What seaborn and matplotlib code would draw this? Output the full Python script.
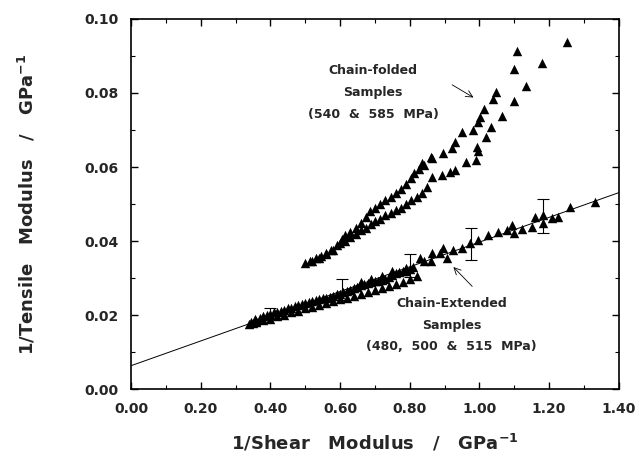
import numpy as np
import pandas as pd
import matplotlib
matplotlib.use("Agg")
import matplotlib.pyplot as plt
import seaborn as sns

# ---------------- data ----------------
# Chain-folded samples, upper branch
fold_a_x = [0.500, 0.515, 0.530, 0.545, 0.560, 0.575, 0.590, 0.605, 0.615, 0.630,
            0.645, 0.660, 0.675, 0.685, 0.700, 0.715, 0.730, 0.745, 0.760, 0.775,
            0.790, 0.805, 0.811, 0.826, 0.835, 0.841, 0.861, 0.863, 0.897, 0.921,
            0.930, 0.949, 0.983, 0.997, 1.002, 1.013, 1.040, 1.048, 1.100, 1.109]
fold_a_y = [0.0340, 0.0345, 0.0355, 0.0360, 0.0368, 0.0375, 0.0390, 0.0405, 0.0415, 0.0425,
            0.0435, 0.0450, 0.0465, 0.0480, 0.0490, 0.0500, 0.0510, 0.0520, 0.0530, 0.0540,
            0.0555, 0.0570, 0.0583, 0.0595, 0.0610, 0.0605, 0.0628, 0.0625, 0.0637, 0.0651,
            0.0668, 0.0695, 0.0700, 0.0722, 0.0736, 0.0756, 0.0783, 0.0804, 0.0864, 0.0914]
# Chain-folded samples, lower branch
fold_b_x = [0.520, 0.540, 0.560, 0.580, 0.600, 0.615, 0.630, 0.645, 0.660, 0.675,
            0.690, 0.700, 0.715, 0.730, 0.745, 0.760, 0.775, 0.790, 0.805, 0.820,
            0.835, 0.850, 0.863, 0.892, 0.916, 0.930, 0.961, 0.990, 0.997, 0.992,
            1.019, 1.033, 1.066, 1.100, 1.133, 1.181, 1.251]
fold_b_y = [0.0345, 0.0355, 0.0365, 0.0375, 0.0395, 0.0400, 0.0410, 0.0420, 0.0430, 0.0435,
            0.0445, 0.0455, 0.0460, 0.0470, 0.0475, 0.0485, 0.0490, 0.0500, 0.0510, 0.0520,
            0.0530, 0.0545, 0.0572, 0.0578, 0.0587, 0.0592, 0.0614, 0.0619, 0.0644, 0.0655,
            0.0680, 0.0709, 0.0739, 0.0778, 0.0819, 0.0882, 0.0939]

# Chain-extended samples
ext_a_x = [0.340, 0.345, 0.350, 0.355, 0.360, 0.370, 0.380, 0.390, 0.400, 0.410,
           0.420, 0.430, 0.440, 0.450, 0.460, 0.470, 0.480, 0.490, 0.500, 0.510,
           0.520, 0.530, 0.540, 0.550, 0.560, 0.570, 0.580, 0.590, 0.600, 0.610,
           0.620, 0.630, 0.640, 0.650, 0.660, 0.670, 0.680, 0.690, 0.700, 0.710,
           0.720, 0.730, 0.740, 0.750, 0.760, 0.770, 0.780, 0.790, 0.800, 0.810]
ext_a_y = [0.0175, 0.0182, 0.0178, 0.0188, 0.0185, 0.0192, 0.0196, 0.0200, 0.0203, 0.0207,
           0.0209, 0.0212, 0.0214, 0.0218, 0.0220, 0.0224, 0.0226, 0.0229, 0.0232, 0.0236,
           0.0237, 0.0240, 0.0243, 0.0245, 0.0247, 0.0249, 0.0252, 0.0256, 0.0258, 0.0262,
           0.0265, 0.0268, 0.0272, 0.0275, 0.0280, 0.0284, 0.0286, 0.0290, 0.0292, 0.0291,
           0.0295, 0.0298, 0.0303, 0.0308, 0.0313, 0.0316, 0.0320, 0.0318, 0.0325, 0.0331]
ext_b_x = [0.360, 0.380, 0.400, 0.420, 0.440, 0.460, 0.480, 0.500, 0.520, 0.540,
           0.560, 0.580, 0.600, 0.620, 0.640, 0.660, 0.680, 0.700, 0.720, 0.740,
           0.760, 0.780, 0.800, 0.820]
ext_b_y = [0.0180, 0.0187, 0.0190, 0.0197, 0.0201, 0.0207, 0.0212, 0.0218, 0.0222, 0.0228,
           0.0233, 0.0238, 0.0242, 0.0247, 0.0252, 0.0256, 0.0262, 0.0267, 0.0272, 0.0278,
           0.0285, 0.0290, 0.0296, 0.0305]
ext_c_x = [0.660, 0.690, 0.720, 0.750, 0.790, 0.830, 0.840, 0.860, 0.863, 0.887,
           0.897, 0.906, 0.925, 0.949, 0.973, 0.997, 1.026, 1.053, 1.079, 1.093,
           1.100, 1.122, 1.150, 1.160, 1.184, 1.184, 1.208, 1.227, 1.260, 1.332]
ext_c_y = [0.0290, 0.0298, 0.0305, 0.0318, 0.0328, 0.0353, 0.0345, 0.0345, 0.0367, 0.0367,
           0.0380, 0.0353, 0.0376, 0.0380, 0.0394, 0.0403, 0.0416, 0.0423, 0.0430, 0.0443,
           0.0422, 0.0432, 0.0439, 0.0466, 0.0448, 0.0470, 0.0461, 0.0466, 0.0493, 0.0506]

# error bars on chain-extended data
err_x = [0.400, 0.605, 0.801, 0.976, 1.184]
err_y = [0.0203, 0.0268, 0.0334, 0.0392, 0.0468]
err_e = [0.0015, 0.0028, 0.0031, 0.0042, 0.0046]

# linear fit through chain-extended data
fit_intercept = 0.0063
fit_slope = 0.0334

x_ticks = [0.00, 0.20, 0.40, 0.60, 0.80, 1.00, 1.20, 1.40]
y_ticks = [0.00, 0.02, 0.04, 0.06, 0.08, 0.10]

# ---------------- build frames ----------------
df = pd.concat([
    pd.DataFrame({"x": fold_a_x, "y": fold_a_y, "set": "fold_a"}),
    pd.DataFrame({"x": fold_b_x, "y": fold_b_y, "set": "fold_b"}),
    pd.DataFrame({"x": ext_a_x, "y": ext_a_y, "set": "ext_a"}),
    pd.DataFrame({"x": ext_b_x, "y": ext_b_y, "set": "ext_b"}),
    pd.DataFrame({"x": ext_c_x, "y": ext_c_y, "set": "ext_c"}),
], ignore_index=True)

fit_x = np.array([x_ticks[0], x_ticks[-1]])
fit_df = pd.DataFrame({"x": fit_x, "y": fit_intercept + fit_slope * fit_x})

# ---------------- plot ----------------
sns.set_theme(style="ticks")
plt.rcParams["font.family"] = ["DejaVu Sans"]
plt.rcParams["mathtext.default"] = "bf"

fig = plt.figure(figsize=(6.4, 4.7), dpi=100)
ax = fig.add_axes([0.2047, 0.1723, 0.7620, 0.7873])

sns.lineplot(data=fit_df, x="x", y="y", ax=ax, color="black", linewidth=0.7)
sns.scatterplot(data=df, x="x", y="y", ax=ax, marker="^", color="black",
                s=46, linewidth=0, legend=False)
ax.errorbar(err_x, err_y, yerr=err_e, fmt="none", ecolor="black",
            elinewidth=0.8, capsize=4, capthick=0.8)

ax.set_xlim(x_ticks[0], x_ticks[-1])
ax.set_ylim(y_ticks[0], y_ticks[-1])
ax.set_xticks(x_ticks)
ax.set_yticks(y_ticks)
ax.set_xticklabels([f"{v:.2f}" for v in x_ticks])
ax.set_yticklabels([f"{v:.2f}" for v in y_ticks])
ax.xaxis.set_minor_locator(matplotlib.ticker.MultipleLocator(0.1))
ax.yaxis.set_minor_locator(matplotlib.ticker.MultipleLocator(0.01))
ax.tick_params(which="both", direction="in", top=True, right=True, color="black")
ax.tick_params(which="major", length=5, width=1.0, labelsize=10, pad=9)
ax.tick_params(which="minor", length=3, width=0.8)
for lab in ax.get_xticklabels() + ax.get_yticklabels():
    lab.set_fontweight("bold")
for sp in ax.spines.values():
    sp.set_linewidth(1.2)
    sp.set_color("black")

ax.set_xlabel(r"1/Shear   Modulus   /   GPa$^{-1}$", fontsize=13, fontweight="bold", labelpad=12)
ax.set_ylabel(r"1/Tensile   Modulus   /   GPa$^{-1}$", fontsize=13, fontweight="bold", labelpad=34)

ax.text(0.695, 0.0860, "Chain-folded", ha="center", va="center", fontsize=9, fontweight="bold")
ax.text(0.695, 0.0800, "Samples", ha="center", va="center", fontsize=9, fontweight="bold")
ax.text(0.695, 0.0743, "(540  &  585  MPa)", ha="center", va="center", fontsize=9, fontweight="bold")
ax.annotate("", xy=(0.99, 0.0784), xytext=(0.915, 0.0826),
            arrowprops=dict(arrowstyle="->", color="black", lw=0.6))

ax.text(0.920, 0.0230, "Chain-Extended", ha="center", va="center", fontsize=9, fontweight="bold")
ax.text(0.920, 0.0172, "Samples", ha="center", va="center", fontsize=9, fontweight="bold")
ax.text(0.920, 0.0114, "(480,  500  &  515  MPa)", ha="center", va="center", fontsize=9, fontweight="bold")
ax.annotate("", xy=(0.920, 0.0335), xytext=(0.985, 0.0272),
            arrowprops=dict(arrowstyle="->", color="black", lw=0.6))

fig.savefig("out.png", dpi=100, facecolor="white")
